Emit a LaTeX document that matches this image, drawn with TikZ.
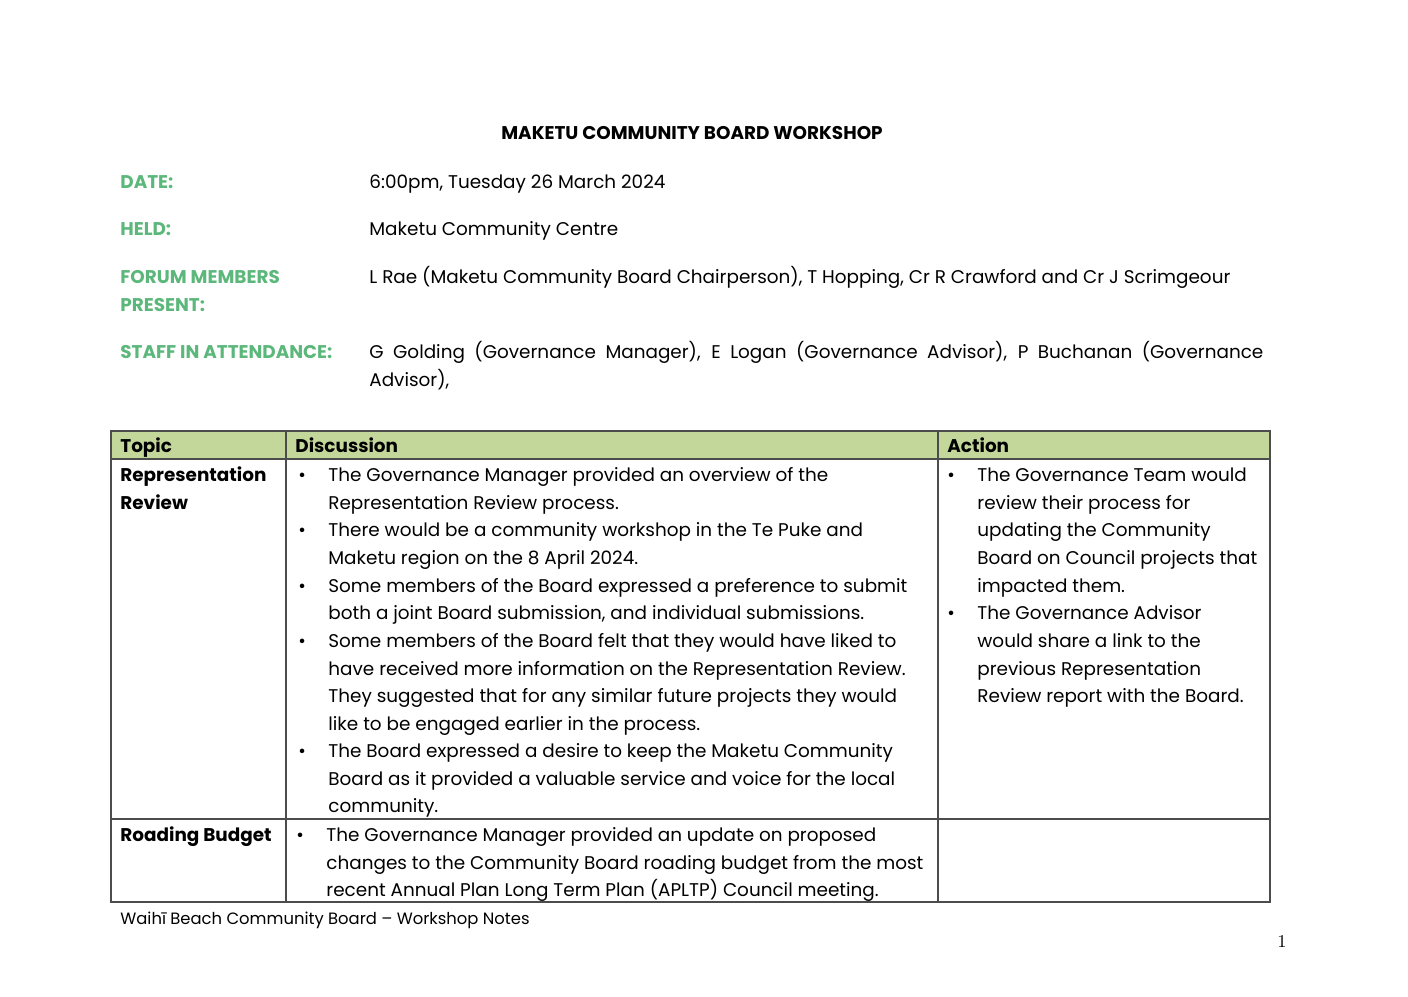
\documentclass[tikz,border=0pt]{standalone}
\usepackage{fontspec}
\setmainfont{Poppins}
\newfontfamily\serifnum{Latin Modern Roman}
\definecolor{lbl}{HTML}{5CB77B}
\definecolor{hdr}{HTML}{C4D79B}
\newcounter{tl}
\newcommand\tl[3]{\stepcounter{tl}\node[txt] (l\arabic{tl}) at (#1,#2) {#3};}
\newcommand\bl[2]{\stepcounter{tl}\node[txt] (b\arabic{tl}) at (#1,#2) {\textbullet};}
\begin{document}
\begin{tikzpicture}[x=0.5pt,y=-0.5pt,
  txt/.style={anchor=base west,inner sep=0pt,font=\fontsize{9.2pt}{11pt}\selectfont},
  lab/.style={txt,font=\fontsize{9.2pt}{11pt}\selectfont\bfseries,text=lbl},
  bold/.style={txt,font=\fontsize{9.2pt}{11pt}\selectfont\bfseries},
  grid/.style={draw=black!70,line width=0.6pt}]
\useasboundingbox (0,0) rectangle (1408,996);
\node[bold,anchor=base] (title) at (692,139) {MAKETU COMMUNITY BOARD WORKSHOP};
\node[lab] (d) at (120,188) {DATE:};
\tl{369}{188}{6:00pm, Tuesday 26 March 2024}
\node[lab] (h) at (120,235) {HELD:};
\tl{369}{235}{Maketu Community Centre}
\node[lab] (f1) at (120,283) {FORUM MEMBERS};
\node[lab] (f2) at (120,311) {PRESENT:};
\tl{369}{283}{L Rae (Maketu Community Board Chairperson), T Hopping, Cr R Crawford and Cr J Scrimgeour}
\node[lab] (s) at (120,358) {STAFF IN ATTENDANCE:};
\tl{369}{358}{\makebox[447pt][s]{G Golding (Governance Manager), E Logan (Governance Advisor), P Buchanan (Governance}}
\tl{369}{386}{Advisor),}
% table
\fill[hdr] (111,431) rectangle (1270,459);
\draw[grid] (111,431) rectangle (1270,902);
\draw[grid] (111,459) -- (1270,459);
\draw[grid] (111,819) -- (1270,819);
\draw[grid] (286,431) -- (286,902);
\draw[grid] (938,431) -- (938,902);
\node[bold] (th1) at (120,452) {Topic};
\node[bold] (th2) at (295,452) {Discussion};
\node[bold] (th3) at (947,452) {Action};
\node[bold] (r1a) at (120,481) {Representation};
\node[bold] (r1b) at (120,509) {Review};
\bl{298}{481}\tl{328}{481}{The Governance Manager provided an overview of the}
\tl{328}{509}{Representation Review process.}
\bl{298}{536}\tl{328}{536}{There would be a community workshop in the Te Puke and}
\tl{328}{564}{Maketu region on the 8 April 2024.}
\bl{298}{592}\tl{328}{592}{Some members of the Board expressed a preference to submit}
\tl{328}{619}{both a joint Board submission, and individual submissions.}
\bl{298}{647}\tl{328}{647}{Some members of the Board felt that they would have liked to}
\tl{328}{675}{have received more information on the Representation Review.}
\tl{328}{702}{They suggested that for any similar future projects they would}
\tl{328}{730}{like to be engaged earlier in the process.}
\bl{298}{757}\tl{328}{757}{The Board expressed a desire to keep the Maketu Community}
\tl{328}{785}{Board as it provided a valuable service and voice for the local}
\tl{328}{812}{community.}
\bl{947}{481}\tl{977}{481}{The Governance Team would}
\tl{977}{509}{review their process for}
\tl{977}{536}{updating the Community}
\tl{977}{564}{Board on Council projects that}
\tl{977}{592}{impacted them.}
\bl{947}{619}\tl{977}{619}{The Governance Advisor}
\tl{977}{647}{would share a link to the}
\tl{977}{675}{previous Representation}
\tl{977}{702}{Review report with the Board.}
\node[bold] (r2) at (120,841) {Roading Budget};
\bl{296}{841}\tl{326}{841}{The Governance Manager provided an update on proposed}
\tl{326}{869}{changes to the Community Board roading budget from the most}
\tl{326}{896}{recent Annual Plan Long Term Plan (APLTP) Council meeting.}
\node[txt,font=\fontsize{8.2pt}{10pt}\selectfont] (foot) at (120,924) {Waihī Beach Community Board – Workshop Notes};
\node[txt,anchor=base east,font=\serifnum\fontsize{9pt}{10pt}\selectfont] (pg) at (1287,947) {1};
\end{tikzpicture}
\end{document}
